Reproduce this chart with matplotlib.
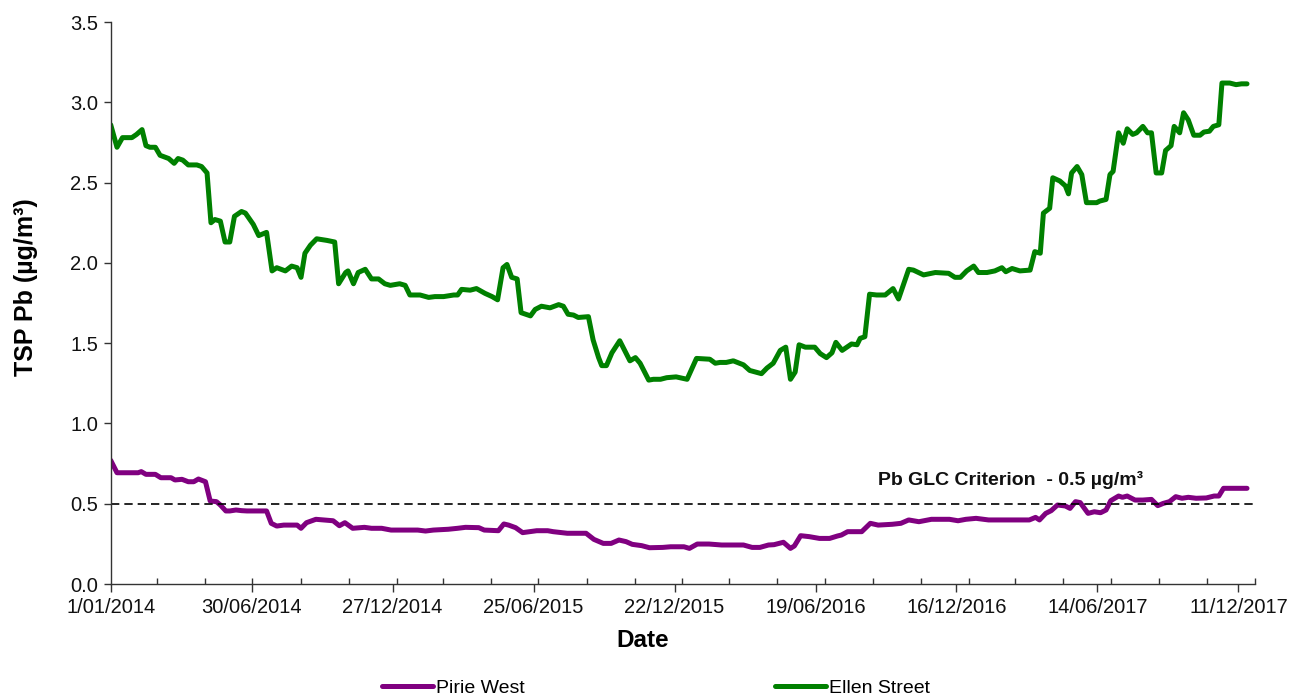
import numpy as np
import pandas as pd
import matplotlib
matplotlib.use("Agg")
import matplotlib.pyplot as plt
import matplotlib.dates as mdates
from matplotlib.ticker import FixedLocator, FuncFormatter, MultipleLocator
from matplotlib.lines import Line2D

plt.rcParams['font.family'] = ['Liberation Sans', 'DejaVu Sans']

# Rolling TSP lead concentrations; days counted from 1 Jan 2014
START = pd.Timestamp('2014-01-01')

ellen_days = [0, 8, 15, 27, 33, 40, 45, 50, 57, 63, 74, 81, 86, 92, 99, 110, 116, 123,
              128, 133, 140, 146, 152, 158, 167, 172, 182, 189, 199, 206, 212, 223, 231,
              238, 243, 248, 255, 263, 276, 286, 291, 300, 303, 310, 316, 325, 333, 342,
              350, 357, 369, 376, 382, 395, 406, 414, 425, 438, 443, 448, 459, 467, 478,
              487, 494, 501, 506, 512, 519, 524, 536, 542, 550, 561, 572, 578, 584, 591,
              597, 610, 616, 623, 627, 633, 640, 650, 663, 670, 676, 687, 693, 702, 710,
              722, 736, 748, 765, 772, 778, 786, 795, 808, 816, 831, 838, 846, 855, 862,
              868, 874, 879, 887, 899, 906, 914, 921, 926, 934, 946, 953, 957, 963, 969,
              978, 989, 999, 1006, 1012, 1019, 1025, 1038, 1053, 1070, 1078, 1085, 1093,
              1102, 1108, 1119, 1129, 1138, 1143, 1151, 1161, 1174, 1180, 1187, 1191,
              1199, 1203, 1212, 1219, 1223, 1227, 1234, 1240, 1246, 1259, 1263, 1271,
              1276, 1280, 1287, 1293, 1298, 1305, 1310, 1318, 1324, 1329, 1335, 1342,
              1347, 1354, 1358, 1365, 1370, 1376, 1383, 1391, 1396, 1403, 1408, 1415,
              1419, 1429, 1437, 1444, 1451]
ellen_tsp = [2.86, 2.72, 2.78, 2.78, 2.80, 2.83, 2.73, 2.72, 2.72, 2.67, 2.65, 2.62, 2.65,
             2.64, 2.61, 2.61, 2.60, 2.56, 2.25, 2.27, 2.26, 2.13, 2.13, 2.29, 2.32, 2.31,
             2.24, 2.17, 2.19, 1.95, 1.97, 1.95, 1.98, 1.97, 1.91, 2.06, 2.11, 2.15, 2.14,
             2.13, 1.87, 1.94, 1.95, 1.87, 1.94, 1.96, 1.90, 1.90, 1.87, 1.86, 1.87, 1.86,
             1.80, 1.80, 1.785, 1.79, 1.79, 1.80, 1.80, 1.835, 1.83, 1.84, 1.81, 1.79, 1.77,
             1.97, 1.99, 1.91, 1.90, 1.69, 1.67, 1.71, 1.73, 1.72, 1.74, 1.73, 1.68, 1.675,
             1.66, 1.665, 1.52, 1.41, 1.36, 1.36, 1.44, 1.515, 1.39, 1.41, 1.375, 1.27,
             1.275, 1.275, 1.285, 1.29, 1.275, 1.405, 1.40, 1.375, 1.38, 1.38, 1.39, 1.365,
             1.33, 1.31, 1.345, 1.375, 1.455, 1.475, 1.275, 1.32, 1.49, 1.475, 1.475, 1.435,
             1.41, 1.44, 1.505, 1.455, 1.495, 1.49, 1.53, 1.54, 1.805, 1.80, 1.80, 1.84,
             1.775, 1.86, 1.96, 1.955, 1.925, 1.94, 1.935, 1.91, 1.91, 1.95, 1.98, 1.94,
             1.94, 1.95, 1.97, 1.945, 1.965, 1.95, 1.955, 2.07, 2.06, 2.31, 2.34, 2.53,
             2.51, 2.48, 2.43, 2.56, 2.60, 2.55, 2.375, 2.375, 2.385, 2.395, 2.55, 2.57,
             2.81, 2.745, 2.835, 2.80, 2.81, 2.85, 2.81, 2.81, 2.56, 2.56, 2.70, 2.73,
             2.85, 2.81, 2.935, 2.89, 2.795, 2.795, 2.815, 2.82, 2.85, 2.86, 3.12, 3.12,
             3.11, 3.115, 3.115]

pirie_days = [0, 8, 35, 39, 45, 57, 64, 77, 82, 91, 99, 106, 112, 121, 127, 135, 140, 147,
              152, 160, 167, 174, 199, 205, 212, 221, 238, 243, 250, 262, 272, 284, 292,
              299, 309, 324, 333, 346, 358, 392, 402, 412, 431, 443, 453, 470, 477, 495,
              502, 508, 517, 526, 544, 558, 565, 583, 607, 617, 629, 639, 649, 658, 666,
              678, 688, 705, 715, 732, 739, 749, 764, 780, 808, 819, 829, 840, 847, 859,
              868, 873, 881, 892, 905, 918, 928, 933, 941, 959, 970, 980, 998, 1009, 1019,
              1032, 1048, 1071, 1082, 1092, 1105, 1121, 1173, 1181, 1186, 1194, 1201,
              1209, 1219, 1225, 1232, 1238, 1248, 1256, 1264, 1271, 1277, 1287, 1292,
              1298, 1308, 1318, 1329, 1337, 1344, 1352, 1360, 1368, 1376, 1386, 1399,
              1409, 1415, 1421, 1451]
pirie_tsp = [0.77, 0.693, 0.693, 0.70, 0.683, 0.683, 0.662, 0.662, 0.648, 0.652, 0.637,
             0.637, 0.654, 0.637, 0.517, 0.513, 0.492, 0.455, 0.455, 0.461, 0.457, 0.455,
             0.455, 0.378, 0.361, 0.367, 0.367, 0.347, 0.382, 0.403, 0.399, 0.394, 0.363,
             0.382, 0.347, 0.353, 0.347, 0.347, 0.336, 0.336, 0.330, 0.336, 0.341, 0.347,
             0.353, 0.351, 0.336, 0.332, 0.374, 0.367, 0.351, 0.320, 0.332, 0.332, 0.326,
             0.316, 0.316, 0.278, 0.253, 0.253, 0.274, 0.264, 0.247, 0.239, 0.226, 0.228,
             0.232, 0.232, 0.222, 0.249, 0.249, 0.243, 0.243, 0.228, 0.228, 0.243, 0.245,
             0.260, 0.222, 0.237, 0.301, 0.295, 0.284, 0.284, 0.299, 0.305, 0.326, 0.326,
             0.378, 0.367, 0.372, 0.378, 0.399, 0.388, 0.403, 0.403, 0.394, 0.403, 0.409,
             0.399, 0.399, 0.415, 0.399, 0.440, 0.457, 0.492, 0.486, 0.471, 0.513, 0.507,
             0.440, 0.450, 0.444, 0.461, 0.519, 0.548, 0.540, 0.548, 0.523, 0.523, 0.527,
             0.488, 0.502, 0.513, 0.544, 0.534, 0.540, 0.534, 0.536, 0.548, 0.548, 0.596,
             0.596]

criterion = 0.5
series_names = ['Pirie West', 'Ellen Street']
series_colors = ['#800080', '#008000']
major_step_days = 180
n_major = 9


def to_dates(days):
    return START + pd.to_timedelta(np.asarray(days), unit='D')


fig = plt.figure(figsize=(12.89, 6.97), dpi=100)
ax = fig.add_axes([0.0859, 0.1621, 0.8876, 0.8063])

ax.plot(to_dates(pirie_days), pirie_tsp, color=series_colors[0], lw=3.6,
        solid_joinstyle='round', solid_capstyle='round')
ax.plot(to_dates(ellen_days), ellen_tsp, color=series_colors[1], lw=3.6,
        solid_joinstyle='round', solid_capstyle='round')

ax.axhline(criterion, color='black', lw=1.2, dashes=(5, 3))
ax.text(START + pd.Timedelta(days=980), 0.615, 'Pb GLC Criterion  - 0.5 µg/m³',
        fontsize=14, fontweight='bold', ha='left', va='baseline', color='#111111')

# Axes limits and ticks
ax.set_xlim(START, pd.Timestamp('2018-01-01'))
ax.set_ylim(0, 3.5)

major_dates = [START + pd.Timedelta(days=major_step_days * k) for k in range(n_major)]
ax.xaxis.set_major_locator(FixedLocator(mdates.date2num(major_dates)))
ax.xaxis.set_major_formatter(FuncFormatter(
    lambda v, pos: (lambda d: f"{d.day}/{d.month:02d}/{d.year}")(mdates.num2date(v))))
ax.xaxis.set_minor_locator(mdates.MonthLocator(bymonth=(1, 3, 5, 7, 9, 11)))
ax.tick_params(axis='x', which='major', direction='out', length=6, width=1,
               labelsize=14.5, pad=4, colors='#333333', labelcolor='#111111')
ax.tick_params(axis='x', which='minor', direction='in', length=4, width=1, colors='#333333')

ax.yaxis.set_major_locator(MultipleLocator(0.5))
ax.yaxis.set_major_formatter(FuncFormatter(lambda v, pos: f"{v:.1f}"))
ax.tick_params(axis='y', which='major', direction='out', length=5, width=1,
               labelsize=14.5, pad=4, colors='#333333', labelcolor='#111111')

for side in ('top', 'right'):
    ax.spines[side].set_visible(False)
for side in ('left', 'bottom'):
    ax.spines[side].set_color('#333333')
    ax.spines[side].set_linewidth(1.0)

ax.set_xlabel('Date', fontsize=17.5, fontweight='bold')
ax.xaxis.set_label_coords(0.465, -0.08)
ax.set_ylabel('TSP Pb (µg/m³)', fontsize=18, fontweight='bold')
ax.yaxis.set_label_coords(-0.0636, 0.528)

handles = [Line2D([], [], color=c, lw=3.6, solid_capstyle='round') for c in series_colors]
fig.legend(handles, series_names, loc='center', bbox_to_anchor=(0.509, 0.013), ncol=2,
           frameon=False, fontsize=14, handlelength=2.6, handletextpad=0.15,
           columnspacing=12.9, borderaxespad=0)

fig.savefig('out.png', dpi=100, facecolor='white')
